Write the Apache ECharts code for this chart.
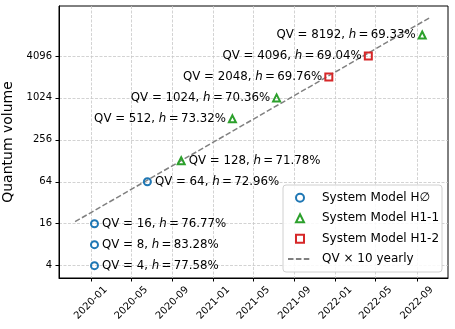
<!DOCTYPE html>
<html>
<head>
<meta charset="utf-8">
<script src="https://cdn.jsdelivr.net/npm/echarts@6/dist/echarts.min.js"></script>
<style>
html,body{margin:0;padding:0;background:#fff;}
#chart{width:455px;height:329px;}
</style>
</head>
<body>
<div id="chart"></div>
<script>
// ---- data ----
const h0Dates = ['2020-01-12', '2020-01-12', '2020-01-12', '2020-06-18'];
const h0QV = [4, 8, 16, 64];
const h0H = ['77.58', '83.28', '76.77', '72.96'];

const h11Dates = ['2020-09-27', '2021-02-27', '2021-07-09', '2022-09-17'];
const h11QV = [128, 512, 1024, 8192];
const h11H = ['71.78', '73.32', '70.36', '69.33'];

const h12Dates = ['2021-12-12', '2022-04-09'];
const h12QV = [2048, 4096];
const h12H = ['69.76', '69.04'];

const trendDates = ['2019-11-15', '2022-10-13'];
const trendQV = [17.1, 14830];

const xTickLabels = ['2020-01', '2020-05', '2020-09', '2021-01', '2021-05', '2021-09', '2022-01', '2022-05', '2022-09'];
const yTickValues = [4, 16, 64, 256, 1024, 4096];

const seriesNames = ['System Model H\u2205', 'System Model H1-1', 'System Model H1-2', 'QV \u00d7 10 yearly'];
const xRange = ['2019-09-28', '2022-12-03'];
const yRange = [2.66, 21340];

// ---- helpers ----
function ts(s) {
  const p = s.split('-').map(Number);
  return new Date(p[0], p[1] - 1, p[2] || 1).getTime();
}
function pad2(n) { return (n < 10 ? '0' : '') + n; }

const blue = '#1f77b4', green = '#2ca02c', red = '#d62728';
const font = 'DejaVu Sans';

function makePoints(dates, qv, h) {
  return dates.map((d, i) => ({
    value: [ts(d), qv[i], h[i]],
    label: { position: qv[i] >= 512 ? 'left' : 'right', distance: qv[i] >= 512 ? 2 : 3 }
  }));
}
const labelCfg = {
  show: true,
  color: '#000',
  formatter: p => '{t|QV = ' + p.value[1] + ', }{i|h}{t|\u2009=\u2009' + p.value[2] + '%}',
  rich: {
    t: { fontFamily: font, fontSize: 11.8, color: '#000' },
    i: { fontFamily: font, fontStyle: 'italic', fontSize: 11.8, color: '#000' }
  }
};
function scatter(name, sym, color, data) {
  return {
    name: name, type: 'scatter', symbol: sym, symbolSize: 7,
    itemStyle: { color: 'rgba(255,255,255,0)', borderColor: color, borderWidth: 2, opacity: 1 },
    label: labelCfg, data: data, z: 5
  };
}

const chart = echarts.init(document.getElementById('chart'), null, { renderer: 'canvas' });
chart.setOption({
  animation: false,
  backgroundColor: '#fff',
  textStyle: { fontFamily: font },
  grid: { left: 59, right: 7, top: 6, bottom: 51, outerBoundsMode: 'none', containLabel: false, show: true, borderColor: '#000', borderWidth: 1, backgroundColor: 'transparent' },
  xAxis: {
    type: 'value',
    min: ts(xRange[0]), max: ts(xRange[1]),
    axisLine: { show: true, lineStyle: { color: '#000', width: 1 } },
    axisTick: { show: true, inside: false, length: 3.5, lineStyle: { color: '#000' }, customValues: xTickLabels.map(ts) },
    axisLabel: {
      customValues: xTickLabels.map(ts),
      rotate: 45, align: 'center', verticalAlign: 'middle', margin: 25,
      fontSize: 10, color: '#000', fontFamily: font,
      formatter: v => { const d = new Date(v); return d.getFullYear() + '-' + pad2(d.getMonth() + 1); }
    },
    splitLine: { show: true, lineStyle: { color: '#c8c8c8', width: 0.8, type: [3, 1.5] } }
  },
  yAxis: {
    type: 'log', logBase: 2,
    min: yRange[0], max: yRange[1],
    name: 'Quantum volume', nameLocation: 'middle', nameGap: 38,
    nameTextStyle: { fontSize: 14, color: '#000', fontFamily: font },
    axisLine: { show: true, lineStyle: { color: '#000', width: 1 } },
    axisTick: { show: true, inside: false, length: 3.5, lineStyle: { color: '#000' }, customValues: yTickValues },
    axisLabel: { customValues: yTickValues, margin: 7, fontSize: 10, color: '#000', fontFamily: font, formatter: v => String(Math.round(v)) },
    splitLine: { show: true, lineStyle: { color: '#c8c8c8', width: 0.8, type: [3, 1.5] } }
  },
  graphic: [{
    type: 'rect', z: 20, silent: true,
    shape: { x: 283, y: 185, width: 159, height: 87, r: 3 },
    style: { fill: 'rgba(255,255,255,0.85)', stroke: '#d0d0d0', lineWidth: 1 }
  }],
  legend: [{
    orient: 'vertical', left: 295, top: 190.7, z: 30,
    padding: 0, itemGap: 6.5, itemWidth: 8, itemHeight: 8,
    textStyle: { fontSize: 12, color: '#000', fontFamily: font, lineHeight: 14, padding: [0, 0, 0, 13] },
    data: seriesNames.slice(0, 3)
  }, {
    orient: 'vertical', left: 287, top: 252, z: 30,
    padding: 0, itemWidth: 22, itemHeight: 8,
    textStyle: { fontSize: 12, color: '#000', fontFamily: font, lineHeight: 14, padding: [0, 0, 0, 7] },
    data: [{ name: seriesNames[3], itemStyle: { opacity: 0, color: 'rgba(0,0,0,0)', borderWidth: 0 } }]
  }],
  series: [
    scatter(seriesNames[0], 'circle', blue, makePoints(h0Dates, h0QV, h0H)),
    scatter(seriesNames[1], 'triangle', green, makePoints(h11Dates, h11QV, h11H)),
    scatter(seriesNames[2], 'rect', red, makePoints(h12Dates, h12QV, h12H)),
    {
      name: seriesNames[3], type: 'line', symbol: 'none', showSymbol: false, z: 3,
      lineStyle: { color: '#808080', width: 1.5, type: [5.5, 2.4] },
      itemStyle: { color: '#808080' },
      data: trendDates.map((d, i) => [ts(d), trendQV[i]])
    }
  ]
});
</script>
</body>
</html>
